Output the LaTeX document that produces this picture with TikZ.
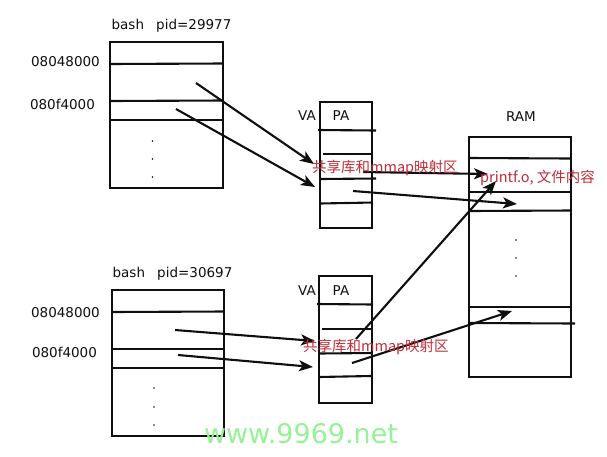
\documentclass[tikz,border=0pt]{standalone}
\usepackage{fontspec}
\setmainfont{DejaVu Sans}
\newfontfamily\cjk{Noto Sans CJK SC}
\usetikzlibrary{arrows.meta}
\definecolor{labred}{RGB}{192,44,56}
\definecolor{wmgreen}{RGB}{150,242,150}
\definecolor{ink}{RGB}{15,15,15}
\begin{document}
\begin{tikzpicture}[x=1pt,y=-1pt,
  memline/.style={draw=ink,line width=2.1pt},
  dotmark/.style={fill=ink,circle,inner sep=0pt,minimum size=1.6pt},
  lbl/.style={font=\fontsize{13.5}{15}\selectfont,text=ink,inner sep=0pt},
  redlbl/.style={font=\cjk\fontsize{14.5}{16}\selectfont,text=labred,inner sep=0pt,anchor=west},
  maparrow/.style={draw=ink,line width=2.1pt,-{Stealth[length=14pt,width=11pt,inset=3.5pt]}}]
\useasboundingbox (0,0) rectangle (607,456);

% ---------- top process ----------
\node[lbl] (t1title) at (171.5,26) {bash\hspace{0.9em}pid=29977};
\node[lbl] (t1a) at (65.5,62) {08048000};
\node[lbl] (t1b) at (62.5,104) {080f4000};
\draw[memline] (110,42) rectangle (223,188);
\draw[memline] (110,64) -- (223,63.5);
\draw[memline] (110,101) -- (223,100.5);
\draw[memline] (110,120) -- (223,120);
\node[dotmark] (t1d1) at (152.5,141) {};
\node[dotmark] (t1d2) at (152.5,159) {};
\node[dotmark] (t1d3) at (152.5,177) {};

% top VA/PA table
\node[lbl] (tva) at (307,116) {VA};
\node[lbl] (tpa) at (341,116) {PA};
\draw[memline] (320,102) rectangle (372,228);
\draw[memline] (318,130) -- (376,130.5);
\draw[memline] (323,154) -- (373,154);
\draw[memline] (320,179) -- (376,178.5);
\draw[memline] (320,203.5) -- (373,202.5);

% ---------- bottom process ----------
\node[lbl] (t2title) at (172.5,274) {bash\hspace{0.9em}pid=30697};
\node[lbl] (t2a) at (65.5,313) {08048000};
\node[lbl] (t2b) at (64.5,352) {080f4000};
\draw[memline] (112,290) rectangle (224,436);
\draw[memline] (112,312) -- (224,311.5);
\draw[memline] (112,349) -- (224,349);
\draw[memline] (112,368) -- (224,368);
\node[dotmark] (t2d1) at (154,388) {};
\node[dotmark] (t2d2) at (154,407) {};
\node[dotmark] (t2d3) at (154,425) {};

% bottom VA/PA table
\node[lbl] (bva) at (307,291) {VA};
\node[lbl] (bpa) at (341,291) {PA};
\draw[memline] (319,276) rectangle (372,403);
\draw[memline] (317,304) -- (373,304.5);
\draw[memline] (322,329) -- (372,329);
\draw[memline] (319,353.5) -- (372,353);
\draw[memline] (319,377) -- (371,376);

% ---------- RAM ----------
\node[lbl] (ram) at (521,117) {RAM};
\draw[memline] (469,137) rectangle (571,377);
\draw[memline] (469,158) -- (571,158.5);
\draw[memline] (469,192) -- (571,192);
\draw[memline] (469,211) -- (571,210.5);
\draw[memline] (468,307) -- (571,307);
\draw[memline] (469,323) -- (575,323.5);
\node[dotmark] (rd1) at (516,240) {};
\node[dotmark] (rd2) at (516,258) {};
\node[dotmark] (rd3) at (516,276) {};

% ---------- arrow end points ----------
\coordinate (p1s) at (196,83);   \coordinate (p1e) at (314,164);
\coordinate (p2s) at (176,109);  \coordinate (p2e) at (315,187);
\coordinate (p3s) at (175,330);  \coordinate (p3e) at (315,341);
\coordinate (p4s) at (178,355);  \coordinate (p4e) at (313,367);
\coordinate (vas) at (363,172);  \coordinate (vae) at (488,174);
\coordinate (vbs) at (353,191);  \coordinate (vbe) at (517,204);
\coordinate (vcs) at (356,339);  \coordinate (vce) at (496,181);
\coordinate (vds) at (352,363);  \coordinate (vde) at (512,311);

\draw[maparrow] (p1s) -- (p1e);
\draw[maparrow] (p2s) -- (p2e);
\draw[maparrow] (p3s) -- (p3e);
\draw[maparrow] (p4s) -- (p4e);
\draw[maparrow] (vas) -- (vae);
\draw[maparrow] (vbs) -- (vbe);
\draw[maparrow] (vcs) -- (vce);
\draw[maparrow] (vds) -- (vde);

% ---------- red labels ----------
\node[redlbl] (shtop) at (312,168) {共享库和mmap映射区};
\node[redlbl] (shbot) at (303,347) {共享库和mmap映射区};
\node[redlbl] (prf) at (480,178) {printf.o, 文件内容};

% watermark
\node[font=\fontsize{27}{30}\selectfont,text=wmgreen,inner sep=0pt] (wm) at (301,434) {www.9969.net};
\end{tikzpicture}
\end{document}
